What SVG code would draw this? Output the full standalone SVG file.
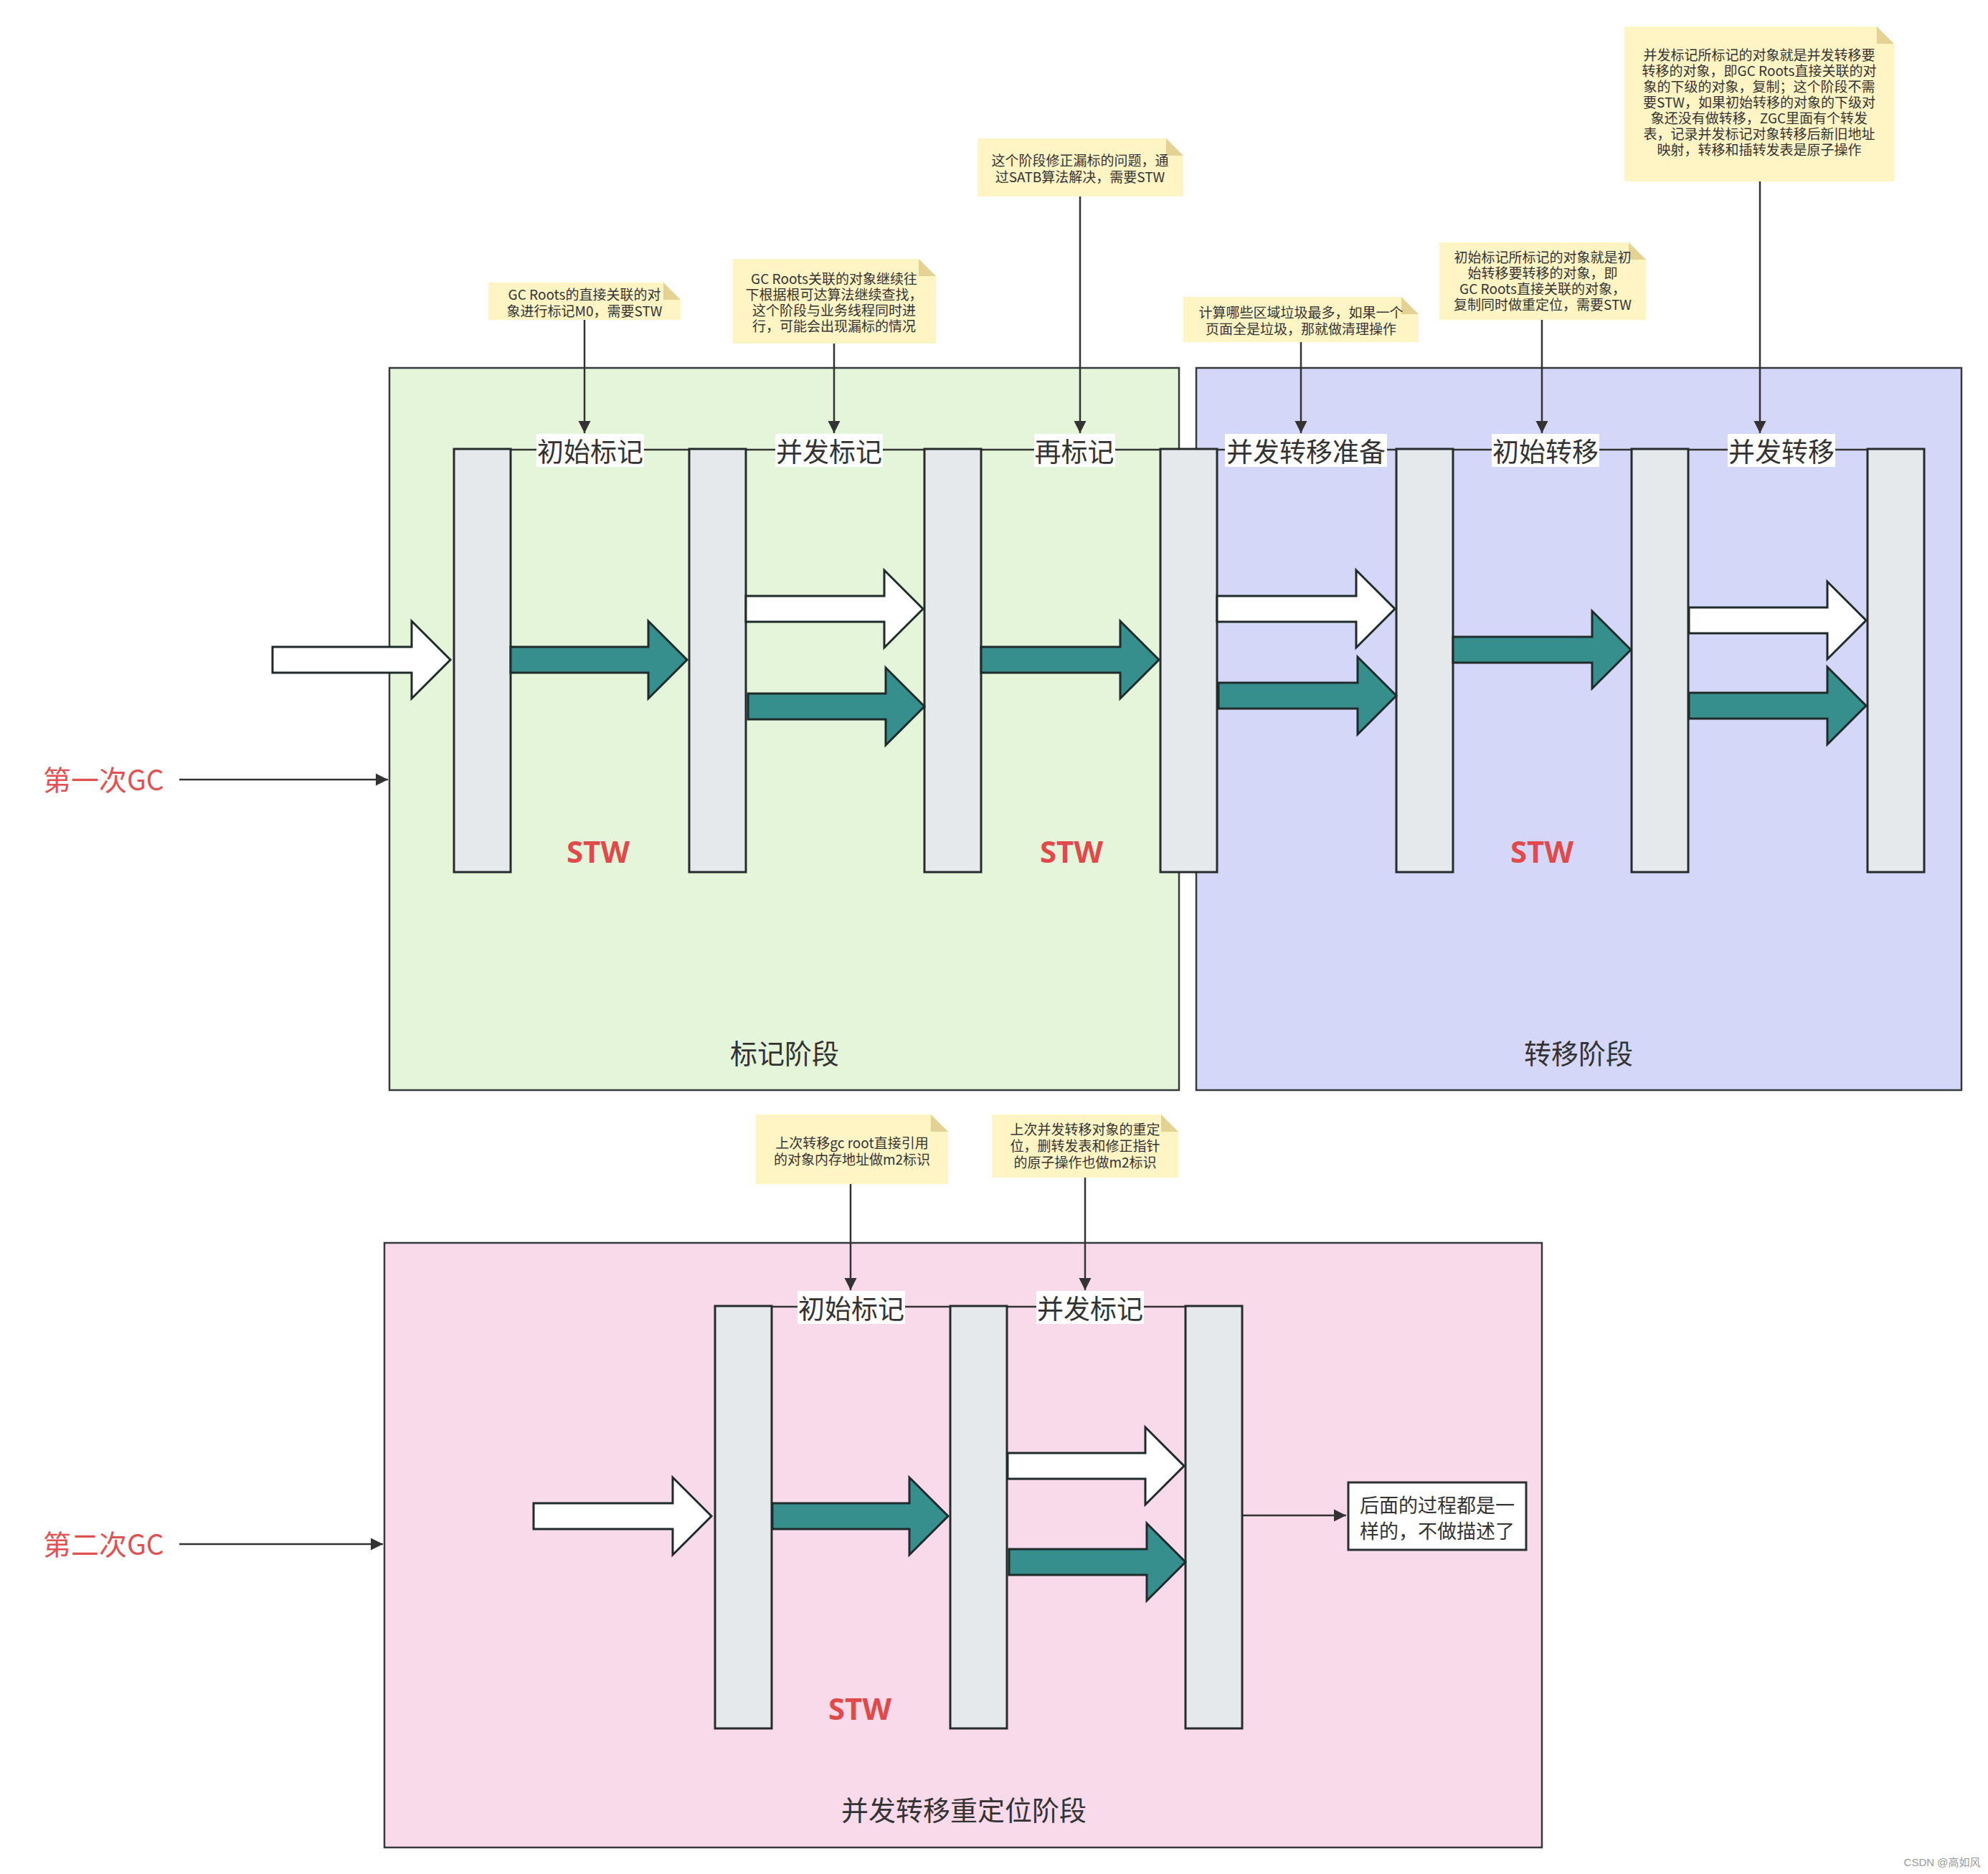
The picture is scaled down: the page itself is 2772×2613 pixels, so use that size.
<svg xmlns="http://www.w3.org/2000/svg" width="2772" height="2613" viewBox="0 0 2772 2613">
<defs>
<style>
.bar{fill:#e6e9ec;stroke:#262b2b;stroke-width:3}
.teal{fill:#368f8c;stroke:#1f2b2b;stroke-width:3}
.wht{fill:#ffffff;stroke:#1f2b2b;stroke-width:3}
.note{fill:#fff4c4}
.fold{fill:#e3d293}
.nt{font-family:"Noto Sans CJK SC","Noto Sans",sans-serif;font-size:19px;fill:#333333;text-anchor:middle;dominant-baseline:central}
.lbl{font-family:"Noto Sans CJK SC","Noto Sans",sans-serif;font-size:37px;fill:#333333;text-anchor:middle;dominant-baseline:central}
.lblbg{fill:#ffffff}
.edge{stroke:#333333;stroke-width:2.5;fill:none}
.conn{stroke:#333333;stroke-width:2.5;fill:none;marker-end:url(#ah)}
.stw{font-family:"Open Sans","Noto Sans",sans-serif;font-weight:bold;font-size:42px;fill:#e04a4a;text-anchor:middle;dominant-baseline:central}
.gc{font-family:"Noto Sans CJK SC","Noto Sans",sans-serif;font-size:39px;fill:#e05252;dominant-baseline:central}
.phase{font-family:"Noto Sans CJK SC","Noto Sans",sans-serif;font-size:38px;fill:#333333;text-anchor:middle;dominant-baseline:central}
.box{stroke:#36393d;stroke-width:2.5}
</style>
<marker id="ah" viewBox="0 0 10 10" refX="10" refY="5" markerWidth="7" markerHeight="8" markerUnits="strokeWidth" orient="auto">
<path d="M0,0 L10,5 L0,10 Z" fill="#333333"/>
</marker>
</defs>
<rect width="2772" height="2613" fill="#ffffff"/>

<!-- phase boxes -->
<g id="phase-mark"><rect class="box" x="543" y="513" width="1101" height="1007" fill="#e4f5da"/><text class="phase" x="1094" y="1466">标记阶段</text></g>
<g id="phase-move"><rect class="box" x="1668" y="513" width="1067" height="1007" fill="#d4d7f7"/><text class="phase" x="2201" y="1466">转移阶段</text></g>
<g id="phase-reloc"><rect class="box" x="536" y="1733" width="1614" height="843" fill="#f9daea"/><text class="phase" x="1344" y="2521">并发转移重定位阶段</text></g>

<!-- GC labels -->
<g id="gc1"><text class="gc" x="60" y="1085">第一次GC</text></g>
<g id="gc2"><text class="gc" x="60" y="2151">第二次GC</text></g>

<!-- connectors -->
<g id="connectors">
<line class="conn" x1="250" y1="1087" x2="541" y2="1087"/>
<line class="conn" x1="250" y1="2153" x2="534" y2="2153"/>
<line class="edge" x1="712" y1="627" x2="960" y2="627"/>
<line class="edge" x1="1040" y1="627" x2="1289" y2="627"/>
<line class="edge" x1="1368" y1="627" x2="1618" y2="627"/>
<line class="edge" x1="1697" y1="627" x2="1947" y2="627"/>
<line class="edge" x1="2026" y1="627" x2="2275" y2="627"/>
<line class="edge" x1="2355" y1="627" x2="2604" y2="627"/>
<line class="edge" x1="1076" y1="1822" x2="1325" y2="1822"/>
<line class="edge" x1="1404" y1="1822" x2="1653" y2="1822"/>
<line class="conn" x1="815" y1="446" x2="815" y2="604"/>
<line class="conn" x1="1163" y1="479" x2="1163" y2="604"/>
<line class="conn" x1="1506" y1="274" x2="1506" y2="604"/>
<line class="conn" x1="1814" y1="477" x2="1814" y2="604"/>
<line class="conn" x1="2150" y1="446" x2="2150" y2="604"/>
<line class="conn" x1="2454" y1="253" x2="2454" y2="604"/>
<line class="conn" x1="1186" y1="1651" x2="1186" y2="1799"/>
<line class="conn" x1="1513" y1="1642" x2="1513" y2="1799"/>
<line class="conn" x1="1733" y1="2113" x2="1877" y2="2113"/>
</g>

<!-- bars row 1 -->
<g id="bar1"><rect class="bar" x="633" y="626" width="79" height="590"/></g>
<g id="bar2"><rect class="bar" x="961" y="626" width="79" height="590"/></g>
<g id="bar3"><rect class="bar" x="1289" y="626" width="79" height="590"/></g>
<g id="bar4"><rect class="bar" x="1618" y="626" width="79" height="590"/></g>
<g id="bar5"><rect class="bar" x="1947" y="626" width="79" height="590"/></g>
<g id="bar6"><rect class="bar" x="2275" y="626" width="79" height="590"/></g>
<g id="bar7"><rect class="bar" x="2604" y="626" width="79" height="590"/></g>
<!-- bars row 2 -->
<g id="bar8"><rect class="bar" x="997" y="1821" width="79" height="589"/></g>
<g id="bar9"><rect class="bar" x="1325" y="1821" width="79" height="589"/></g>
<g id="bar10"><rect class="bar" x="1653" y="1821" width="79" height="589"/></g>

<!-- block arrows -->
<g id="block-arrows">
<path class="wht" d="M380 902 H574 V866 L628 920 L574 974 V938 H380 Z"/>
<path class="teal" d="M712 902 H904 V866 L958 920 L904 974 V938 H712 Z"/>
<path class="wht" d="M1040 831 H1233 V795 L1287 849 L1233 903 V867 H1040 Z"/>
<path class="teal" d="M1043 967 H1235 V931 L1289 985 L1235 1039 V1003 H1043 Z"/>
<path class="teal" d="M1368 902 H1562 V866 L1616 920 L1562 974 V938 H1368 Z"/>
<path class="wht" d="M1697 831 H1891 V795 L1945 849 L1891 903 V867 H1697 Z"/>
<path class="teal" d="M1699 952 H1893 V916 L1947 970 L1893 1024 V988 H1699 Z"/>
<path class="teal" d="M2026 888 H2220 V852 L2274 906 L2220 960 V924 H2026 Z"/>
<path class="wht" d="M2355 847 H2548 V811 L2602 865 L2548 919 V883 H2355 Z"/>
<path class="teal" d="M2355 966 H2548 V930 L2602 984 L2548 1038 V1002 H2355 Z"/>
<path class="wht" d="M744 2096 H938 V2060 L992 2114 L938 2168 V2132 H744 Z"/>
<path class="teal" d="M1077 2096 H1268 V2060 L1322 2114 L1268 2168 V2132 H1077 Z"/>
<path class="wht" d="M1405 2026 H1597 V1990 L1651 2044 L1597 2098 V2062 H1405 Z"/>
<path class="teal" d="M1407 2160 H1599 V2124 L1653 2178 L1599 2232 V2196 H1407 Z"/>
</g>

<!-- edge labels -->
<g id="lbl-init-mark"><rect class="lblbg" x="748" y="605" width="150" height="46"/><text class="lbl" x="823" y="628">初始标记</text></g>
<g id="lbl-conc-mark"><rect class="lblbg" x="1081" y="605" width="150" height="46"/><text class="lbl" x="1156" y="628">并发标记</text></g>
<g id="lbl-remark"><rect class="lblbg" x="1442" y="605" width="113" height="46"/><text class="lbl" x="1498" y="628">再标记</text></g>
<g id="lbl-prep"><rect class="lblbg" x="1708" y="605" width="226" height="46"/><text class="lbl" x="1821" y="628">并发转移准备</text></g>
<g id="lbl-init-move"><rect class="lblbg" x="2080" y="605" width="150" height="46"/><text class="lbl" x="2155" y="628">初始转移</text></g>
<g id="lbl-conc-move"><rect class="lblbg" x="2409" y="605" width="150" height="46"/><text class="lbl" x="2484" y="628">并发转移</text></g>
<g id="lbl-init-mark2"><rect class="lblbg" x="1112" y="1800" width="150" height="46"/><text class="lbl" x="1187" y="1823">初始标记</text></g>
<g id="lbl-conc-mark2"><rect class="lblbg" x="1445" y="1800" width="150" height="46"/><text class="lbl" x="1520" y="1823">并发标记</text></g>

<!-- STW -->
<g id="stw1"><text class="stw" x="834" y="1186">STW</text></g>
<g id="stw2"><text class="stw" x="1494" y="1186">STW</text></g>
<g id="stw3"><text class="stw" x="2150" y="1186">STW</text></g>
<g id="stw4"><text class="stw" x="1199" y="2381">STW</text></g>

<!-- notes -->
<g id="note1"><path class="note" d="M681 394 H925 L949 418 V446 H681 Z"/><path class="fold" d="M925 394 L949 418 H925 Z"/>
<text class="nt" x="815" y="409"><tspan x="815" y="409">GC Roots的直接关联的对</tspan><tspan x="815" y="432">象进行标记M0，需要STW</tspan></text></g>
<g id="note2"><path class="note" d="M1022 361 H1281 L1305 385 V479 H1022 Z"/><path class="fold" d="M1281 361 L1305 385 H1281 Z"/>
<text class="nt" x="1163" y="387"><tspan x="1163" y="387">GC Roots关联的对象继续往</tspan><tspan x="1163" y="409">下根据根可达算法继续查找，</tspan><tspan x="1163" y="431">这个阶段与业务线程同时进</tspan><tspan x="1163" y="453">行，可能会出现漏标的情况</tspan></text></g>
<g id="note3"><path class="note" d="M1363 193 H1626 L1650 217 V274 H1363 Z"/><path class="fold" d="M1626 193 L1650 217 H1626 Z"/>
<text class="nt" x="1506" y="222"><tspan x="1506" y="222">这个阶段修正漏标的问题，通</tspan><tspan x="1506" y="245">过SATB算法解决，需要STW</tspan></text></g>
<g id="note4"><path class="note" d="M1650 414 H1954 L1978 438 V477 H1650 Z"/><path class="fold" d="M1954 414 L1978 438 H1954 Z"/>
<text class="nt" x="1814" y="434"><tspan x="1814" y="434">计算哪些区域垃圾最多，如果一个</tspan><tspan x="1814" y="457">页面全是垃圾，那就做清理操作</tspan></text></g>
<g id="note5"><path class="note" d="M2007 338 H2271 L2295 362 V446 H2007 Z"/><path class="fold" d="M2271 338 L2295 362 H2271 Z"/>
<text class="nt" x="2151" y="357"><tspan x="2151" y="357">初始标记所标记的对象就是初</tspan><tspan x="2151" y="379">始转移要转移的对象，即</tspan><tspan x="2151" y="401">GC Roots直接关联的对象，</tspan><tspan x="2151" y="423">复制同时做重定位，需要STW</tspan></text></g>
<g id="note6"><path class="note" d="M2265 37 H2617 L2641 61 V253 H2265 Z"/><path class="fold" d="M2617 37 L2641 61 H2617 Z"/>
<text class="nt" x="2453" y="75"><tspan x="2453" y="75">并发标记所标记的对象就是并发转移要</tspan><tspan x="2453" y="97">转移的对象，即GC Roots直接关联的对</tspan><tspan x="2453" y="119">象的下级的对象，复制；这个阶段不需</tspan><tspan x="2453" y="141">要STW，如果初始转移的对象的下级对</tspan><tspan x="2453" y="163">象还没有做转移，ZGC里面有个转发</tspan><tspan x="2453" y="185">表，记录并发标记对象转移后新旧地址</tspan><tspan x="2453" y="207">映射，转移和插转发表是原子操作</tspan></text></g>
<g id="note7"><path class="note" d="M1054 1554 H1298 L1322 1578 V1651 H1054 Z"/><path class="fold" d="M1298 1554 L1322 1578 H1298 Z"/>
<text class="nt" x="1188" y="1592"><tspan x="1188" y="1592">上次转移gc root直接引用</tspan><tspan x="1188" y="1615">的对象内存地址做m2标识</tspan></text></g>
<g id="note8"><path class="note" d="M1383 1554 H1619 L1643 1578 V1642 H1383 Z"/><path class="fold" d="M1619 1554 L1643 1578 H1619 Z"/>
<text class="nt" x="1513" y="1573"><tspan x="1513" y="1573">上次并发转移对象的重定</tspan><tspan x="1513" y="1596">位，删转发表和修正指针</tspan><tspan x="1513" y="1619">的原子操作也做m2标识</tspan></text></g>

<!-- end box -->
<g id="end-box"><rect x="1880" y="2067" width="248" height="94" fill="#ffffff" stroke="#2b2f2f" stroke-width="3"/>
<text class="lbl" style="font-size:27px" x="2004" y="2097"><tspan x="2004" y="2097">后面的过程都是一</tspan><tspan x="2004" y="2133">样的，不做描述了</tspan></text></g>

<text x="2708" y="2596" font-family="'Liberation Sans','Noto Sans CJK SC',sans-serif" font-size="15" fill="#999999" text-anchor="middle" dominant-baseline="central">CSDN @高如风</text>
</svg>
